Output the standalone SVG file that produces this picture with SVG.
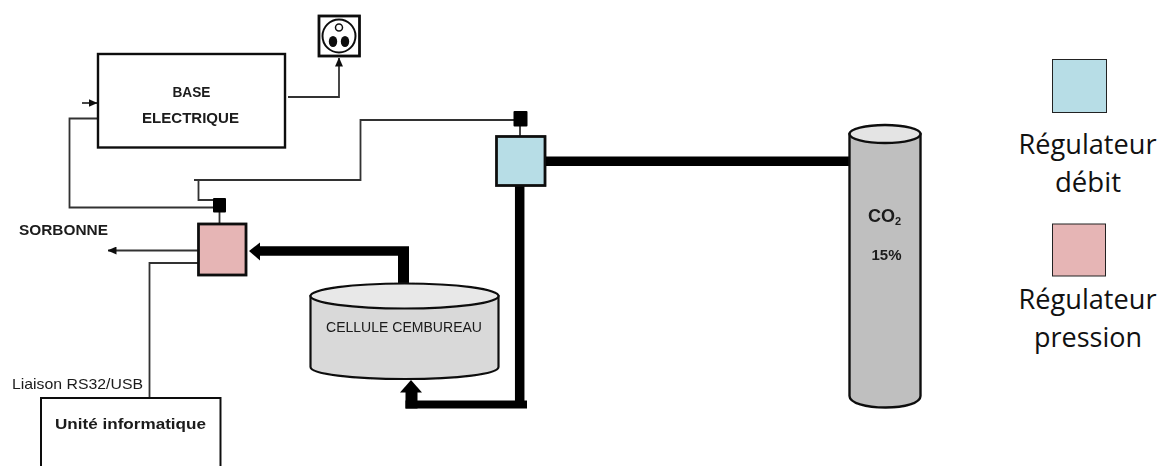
<svg xmlns="http://www.w3.org/2000/svg" width="1162" height="466" viewBox="0 0 1162 466">
<style>
text{font-family:"Liberation Sans",Arial,sans-serif;fill:#1a1a1a}
.b{font-weight:bold}
.m{text-anchor:middle}
.leg{font-family:"Open Sans","Liberation Sans",sans-serif;font-size:27px;text-anchor:middle;fill:#111}
.thin{fill:none;stroke:#333;stroke-width:1.8}
.thick{fill:none;stroke:#000}
.box{fill:#fff;stroke:#111;stroke-width:2.4}
.reg{stroke:#111;stroke-width:2.800}
.ctl{fill:#000}
</style>
<defs>
<filter id="soft" x="0" y="0" width="1162" height="466" filterUnits="userSpaceOnUse"><feGaussianBlur stdDeviation="0.45"/></filter>
<marker id="a" viewBox="0 0 9 8" refX="8.500" refY="4" markerWidth="9" markerHeight="8" markerUnits="userSpaceOnUse" orient="auto"><path d="M0 0L9 4L0 8Z" fill="#111"/></marker>
</defs>
<g id="connectors" filter="url(#soft)">
<path class="thin" d="M288 97H339V58" marker-end="url(#a)"/>
<path class="thin" d="M82 103H97" marker-end="url(#a)"/>
<path class="thin" d="M97 118.500H69.500V207.500H214"/>
<path class="thin" d="M194 180H360.500V120H514"/>
<path class="thin" d="M198.500 180V200H214"/>
<path class="thin" d="M219.500 212V224"/>
<path class="thin" d="M520 126V136"/>
<path class="thin" d="M198 250.500H108" marker-end="url(#a)"/>
<path class="thin" d="M198 263H149.500V398"/>
<path class="thick" stroke-width="9.500" d="M544 161.300H851"/>
<path class="thick" stroke-width="9.500" d="M519.700 185V404"/>
<path class="thick" stroke-width="8" d="M527 404.500H405.500"/>
<path class="thick" stroke-width="12" d="M411.500 408.500V391"/>
<path d="M400 392.500H422L411 380Z" fill="#000"/>
<path class="thick" stroke-width="11" d="M403.500 285V251"/>
<path class="thick" stroke-width="9.700" d="M409 251H258"/>
<path d="M260 242.500V260.500L249 251Z" fill="#000"/>
</g>
<g id="base-electrique" filter="url(#soft)">
<rect class="box" x="98" y="54" width="187" height="93.500"/>
<text class="b m" x="191.500" y="96.700" style="font-size:15px" textLength="38" lengthAdjust="spacingAndGlyphs" fill="#222">BASE</text>
<text class="b m" x="190.500" y="123.300" style="font-size:15px" textLength="97" lengthAdjust="spacingAndGlyphs">ELECTRIQUE</text>
</g>
<g id="prise" filter="url(#soft)">
<rect x="319" y="16" width="40.500" height="40" fill="#fff" stroke="#111" stroke-width="2.800"/>
<circle cx="339" cy="36" r="16.500" fill="#fff" stroke="#111" stroke-width="2"/>
<circle cx="339" cy="27.500" r="3.500" fill="#fff" stroke="#111" stroke-width="1.500"/>
<ellipse cx="333" cy="41.500" rx="4.200" ry="5.500" fill="#111"/>
<ellipse cx="345" cy="41.500" rx="4.200" ry="5.500" fill="#111"/>
</g>
<g id="controle-pression" filter="url(#soft)"><rect class="ctl" x="213" y="198" width="13" height="14.500" rx="1"/></g>
<g id="controle-debit" filter="url(#soft)"><rect class="ctl" x="513.500" y="111" width="14" height="15.500" rx="1"/></g>
<g id="regulateur-debit" filter="url(#soft)"><rect class="reg" x="496.500" y="136.500" width="48.500" height="49" fill="#b7dde6"/></g>
<g id="regulateur-pression" filter="url(#soft)"><rect class="reg" x="198.500" y="224" width="47.500" height="51" fill="#e6b5b5"/></g>
<g id="sorbonne" filter="url(#soft)"><text class="b" x="19" y="235" style="font-size:14px" textLength="89" lengthAdjust="spacingAndGlyphs">SORBONNE</text></g>
<g id="cellule" filter="url(#soft)">
<path d="M310.500 296V367C310.500 374 352 379 405 379S498.500 374 498.500 367V296Z" fill="#d9d9d9" stroke="#111" stroke-width="2.200"/>
<ellipse cx="404.500" cy="296" rx="94" ry="12.500" fill="#e8e8e8" stroke="#111" stroke-width="2.200"/>
<text class="m" x="404" y="332" style="font-size:15.500px" textLength="156" lengthAdjust="spacingAndGlyphs" fill="#2a2a3a">CELLULE CEMBUREAU</text>
</g>
<g id="unite" filter="url(#soft)">
<path d="M41 466V398H220.500V466" fill="#fff" stroke="#111" stroke-width="2"/>
<text class="b m" x="130.500" y="429" style="font-size:15.500px" textLength="151" lengthAdjust="spacingAndGlyphs">Unité informatique</text>
</g>
<g id="liaison" filter="url(#soft)"><text x="12" y="389" style="font-size:15px" textLength="131" lengthAdjust="spacingAndGlyphs" fill="#2a2a3a">Liaison RS32/USB</text></g>
<g id="co2" filter="url(#soft)">
<path d="M849.500 134V396C849.500 403 866 407.500 885.500 407.500S920.500 403 920.500 396V134Z" fill="#bfbfbf" stroke="#111" stroke-width="2.400"/>
<ellipse cx="885" cy="134" rx="35.500" ry="9" fill="#e4e4e4" stroke="#111" stroke-width="2.400"/>
<text class="b" x="868" y="222" style="font-size:18px">CO<tspan dy="3" style="font-size:11px">2</tspan></text>
<text class="m b" x="886.500" y="260" style="font-size:14px" textLength="30" lengthAdjust="spacingAndGlyphs">15%</text>
</g>
<g id="legende-debit">
<rect x="1052.500" y="59.500" width="54" height="53" fill="#b7dde6" stroke="#222" stroke-width="1"/>
<text class="leg" x="1087.500" y="154" textLength="138" lengthAdjust="spacingAndGlyphs">Régulateur</text>
<text class="leg" x="1088" y="192" textLength="66" lengthAdjust="spacingAndGlyphs">débit</text>
</g>
<g id="legende-pression">
<rect x="1052.500" y="224" width="53" height="52" fill="#e6b5b5" stroke="#222" stroke-width="1"/>
<text class="leg" x="1087.500" y="309" textLength="138" lengthAdjust="spacingAndGlyphs">Régulateur</text>
<text class="leg" x="1088" y="347" textLength="108" lengthAdjust="spacingAndGlyphs">pression</text>
</g>
</svg>
